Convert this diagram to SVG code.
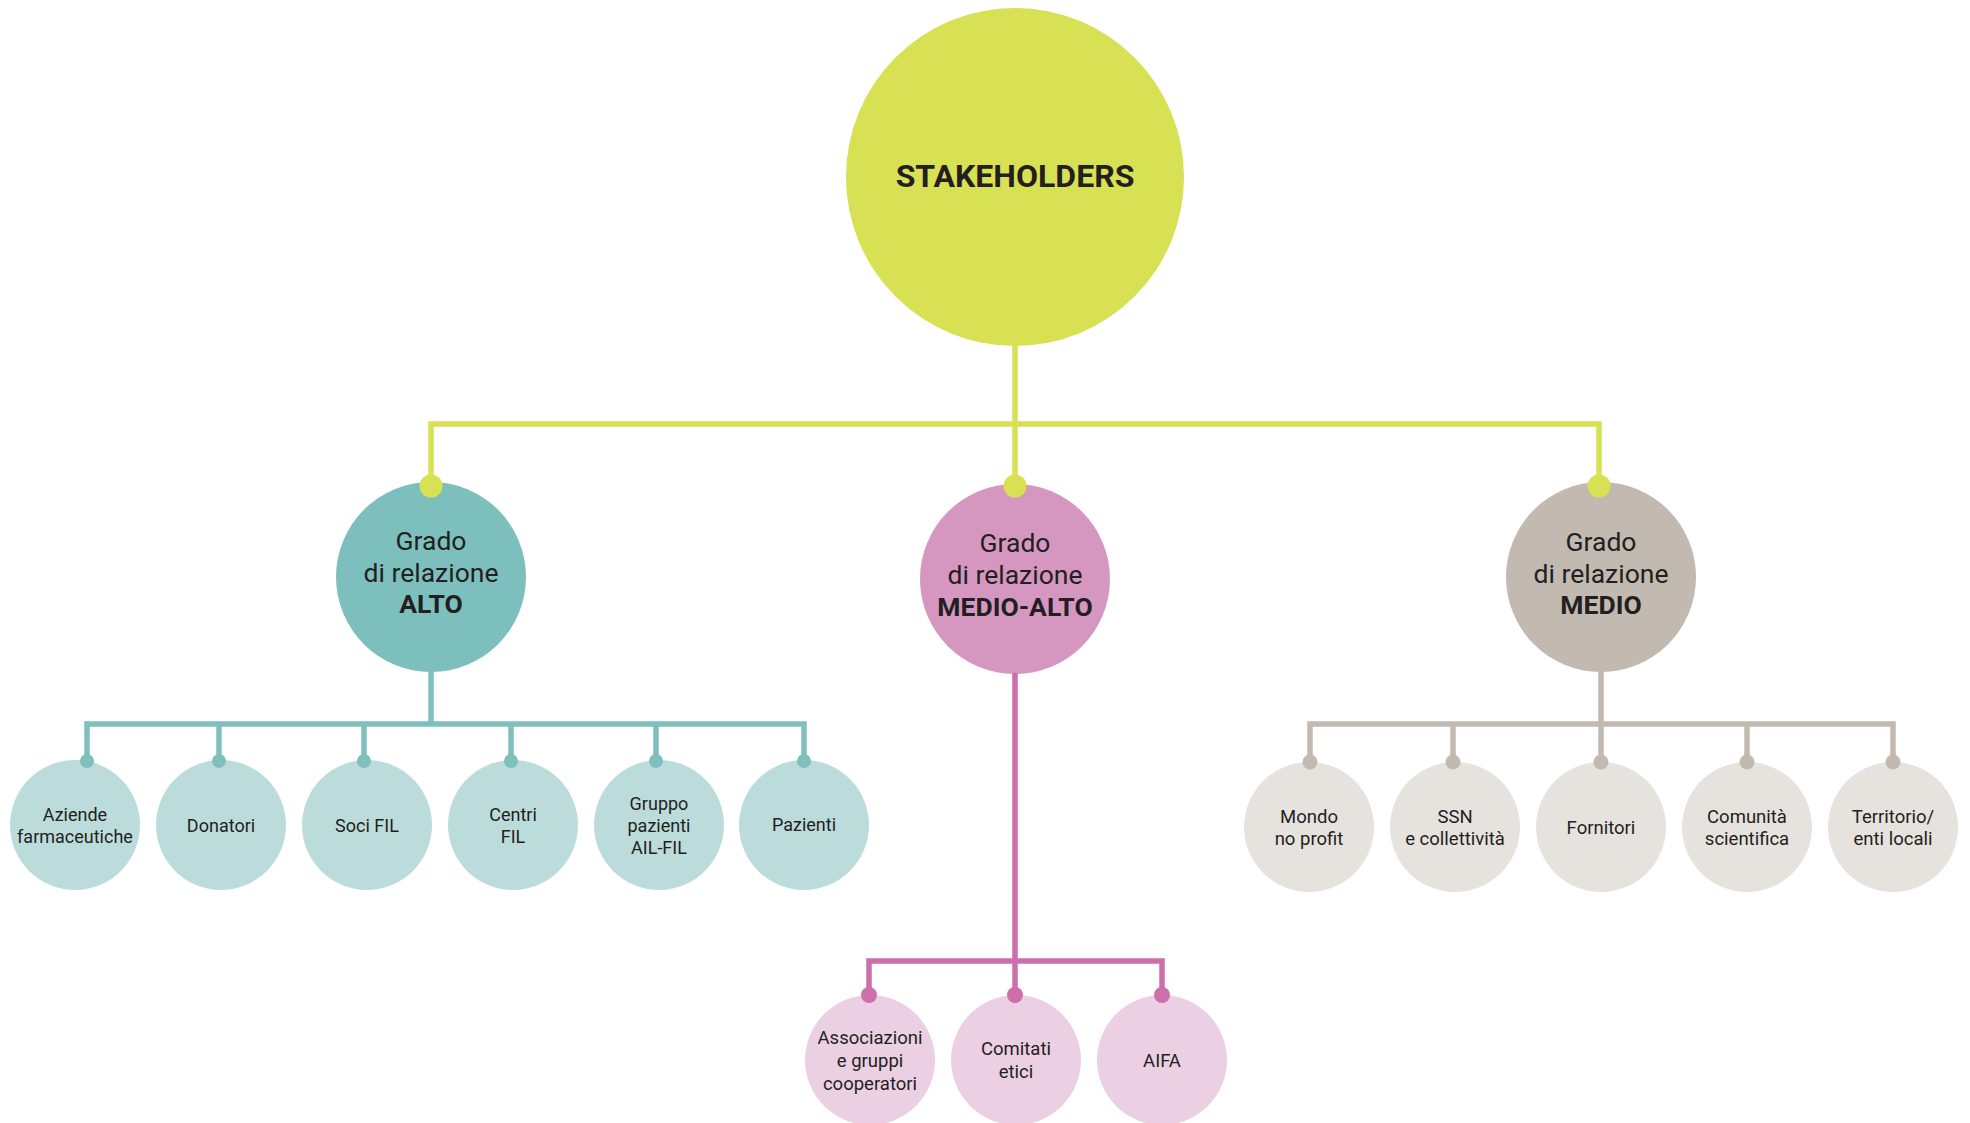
<svg xmlns="http://www.w3.org/2000/svg" width="1970" height="1123" viewBox="0 0 1970 1123">
<style>
text{font-family:Roboto,"Liberation Sans",sans-serif;fill:#231f20;text-anchor:middle}
.t0{font-size:32px;font-weight:700}
.t1{font-size:26.5px}
.b{font-weight:700}
.t2{font-size:18.5px}
.t3{font-size:18px}
.lime{stroke:#d8e054}
.teal{stroke:#7fc0be}
.pink{stroke:#cc6fab}
.gray{stroke:#c2b9b0}
.ln{fill:none;stroke-width:5.5;stroke-linejoin:miter}
</style>
<g id="stakeholders"><circle cx="1015" cy="177" r="169" fill="#d8e054"/><text class="t0" x="1015" y="187">STAKEHOLDERS</text></g>
<g id="alto"><circle cx="431" cy="577" r="95" fill="#7dbfbd"/><text class="t1" x="431"><tspan x="431" y="550">Grado</tspan><tspan x="431" y="582">di relazione</tspan><tspan x="431" y="613" class="b">ALTO</tspan></text></g>
<g id="medioalto"><circle cx="1015" cy="579" r="95" fill="#d597c0"/><text class="t1" x="1015"><tspan x="1015" y="552">Grado</tspan><tspan x="1015" y="584">di relazione</tspan><tspan x="1015" y="616" class="b">MEDIO-ALTO</tspan></text></g>
<g id="medio"><circle cx="1601" cy="577" r="95" fill="#c2b9b0"/><text class="t1" x="1601"><tspan x="1601" y="551">Grado</tspan><tspan x="1601" y="583">di relazione</tspan><tspan x="1601" y="614" class="b">MEDIO</tspan></text></g>
<g id="aziende"><circle cx="75" cy="825" r="65" fill="#bcdcdb"/><text class="t3"><tspan x="75" y="821">Aziende</tspan><tspan x="75" y="843">farmaceutiche</tspan></text></g>
<g id="donatori"><circle cx="221" cy="825" r="65" fill="#bcdcdb"/><text class="t3" x="221" y="832">Donatori</text></g>
<g id="soci"><circle cx="367" cy="825" r="65" fill="#bcdcdb"/><text class="t3" x="367" y="832">Soci FIL</text></g>
<g id="centri"><circle cx="513" cy="825" r="65" fill="#bcdcdb"/><text class="t3"><tspan x="513" y="821">Centri</tspan><tspan x="513" y="843">FIL</tspan></text></g>
<g id="gruppo"><circle cx="659" cy="825" r="65" fill="#bcdcdb"/><text class="t3"><tspan x="659" y="810">Gruppo</tspan><tspan x="659" y="832">pazienti</tspan><tspan x="659" y="854">AIL-FIL</tspan></text></g>
<g id="pazienti"><circle cx="804" cy="825" r="65" fill="#bcdcdb"/><text class="t3" x="804" y="831">Pazienti</text></g>
<g id="associazioni"><circle cx="870" cy="1060" r="65" fill="#ebd0e4"/><text class="t2"><tspan x="870" y="1044">Associazioni</tspan><tspan x="870" y="1067">e gruppi</tspan><tspan x="870" y="1090">cooperatori</tspan></text></g>
<g id="comitati"><circle cx="1016" cy="1060" r="65" fill="#ebd0e4"/><text class="t2"><tspan x="1016" y="1055">Comitati</tspan><tspan x="1016" y="1078">etici</tspan></text></g>
<g id="aifa"><circle cx="1162" cy="1060" r="65" fill="#ebd0e4"/><text class="t2" x="1162" y="1067">AIFA</text></g>
<g id="mondo"><circle cx="1309" cy="827" r="65" fill="#e6e2de"/><text class="t2"><tspan x="1309" y="823">Mondo</tspan><tspan x="1309" y="845">no profit</tspan></text></g>
<g id="ssn"><circle cx="1455" cy="827" r="65" fill="#e6e2de"/><text class="t2"><tspan x="1455" y="823">SSN</tspan><tspan x="1455" y="845">e collettività</tspan></text></g>
<g id="fornitori"><circle cx="1601" cy="827" r="65" fill="#e6e2de"/><text class="t2" x="1601" y="834">Fornitori</text></g>
<g id="comunita"><circle cx="1747" cy="827" r="65" fill="#e6e2de"/><text class="t2"><tspan x="1747" y="823">Comunità</tspan><tspan x="1747" y="845">scientifica</tspan></text></g>
<g id="territorio"><circle cx="1893" cy="827" r="65" fill="#e6e2de"/><text class="t2"><tspan x="1893" y="823">Territorio/</tspan><tspan x="1893" y="845">enti locali</tspan></text></g>
<g id="connectors">
  <path class="ln lime" d="M1015,345 V424 M431,486 V424 H1599 V486 M1015,424 V486"/>
  <g fill="#d8e054"><circle cx="431" cy="486" r="11.5"/><circle cx="1015" cy="486" r="11.5"/><circle cx="1599" cy="486" r="11.5"/></g>
  <path class="ln teal" d="M431,671 V724 M87,761 V724 H804 V761 M219,724 V761 M364,724 V761 M511,724 V761 M656,724 V761"/>
  <g fill="#7fc0be"><circle cx="87" cy="761" r="7"/><circle cx="219" cy="761" r="7"/><circle cx="364" cy="761" r="7"/><circle cx="511" cy="761" r="7"/><circle cx="656" cy="761" r="7"/><circle cx="804" cy="761" r="7"/></g>
  <path class="ln pink" d="M1015,673 V995 M869,995 V961 H1162 V995"/>
  <g fill="#cc6fab"><circle cx="869" cy="995" r="8"/><circle cx="1015" cy="995" r="8"/><circle cx="1162" cy="995" r="8"/></g>
  <path class="ln gray" d="M1601,671 V724 M1310,762 V724 H1893 V762 M1453,724 V762 M1601,724 V762 M1747,724 V762"/>
  <g fill="#c2b9b0"><circle cx="1310" cy="762" r="7.5"/><circle cx="1453" cy="762" r="7.5"/><circle cx="1601" cy="762" r="7.5"/><circle cx="1747" cy="762" r="7.5"/><circle cx="1893" cy="762" r="7.5"/></g>
</g>
</svg>
